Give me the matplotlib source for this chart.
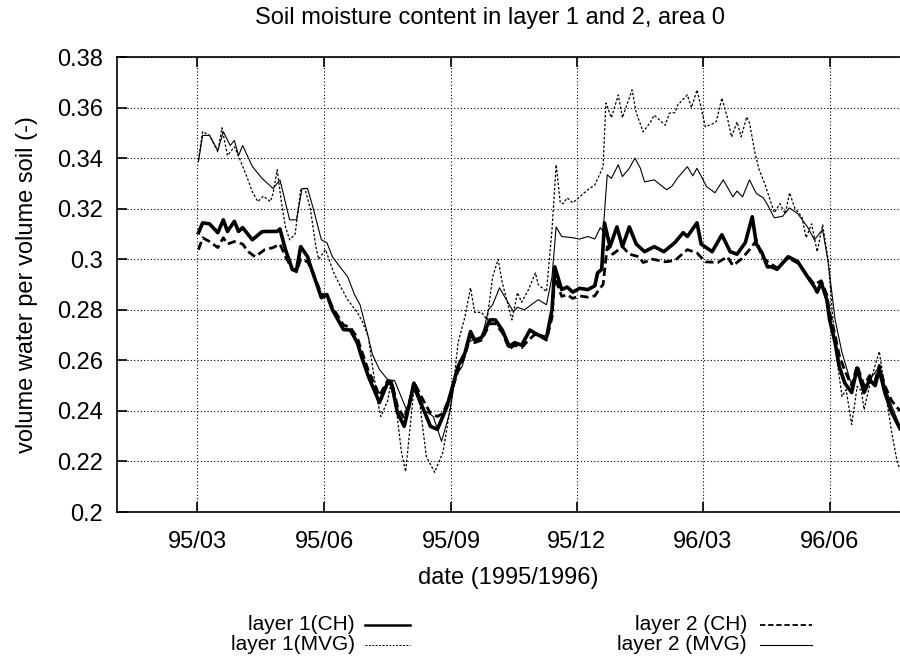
import numpy as np
import matplotlib
matplotlib.use('Agg')
import matplotlib.pyplot as plt
import matplotlib.dates as mdates
from matplotlib.lines import Line2D

plt.rcParams['font.family'] = ['Liberation Sans', 'DejaVu Sans']

# days since 1995-03-01 and soil moisture (volume water per volume soil)
l1_ch_days = [1, 4, 9, 15, 19, 22, 27, 30, 33, 40, 47, 51, 58, 60, 64, 69, 72, 75, 80,
              82, 88, 90, 94, 98, 106, 111, 116, 119, 124, 129, 132, 138, 141, 145, 150,
              154, 157, 163, 169, 174, 181, 185, 189, 194, 198, 201, 206, 212, 216, 221,
              226, 230, 235, 241, 247, 253, 257, 259, 264, 268, 272, 277, 283, 288, 290,
              293, 295, 299, 304, 308, 313, 318, 324, 331, 338, 346, 352, 355, 362, 365,
              373, 380, 386, 391, 397, 402, 405, 409, 413, 416, 420, 428, 435, 442, 447,
              449, 452, 456, 458, 462, 465, 469, 474, 478, 481, 483, 487, 491, 494, 498,
              503, 509]
l1_ch = [0.3105, 0.3144, 0.3140, 0.3105, 0.3156, 0.3110, 0.3150, 0.3110, 0.3125, 0.3077,
         0.3109, 0.3110, 0.3110, 0.3120, 0.3038, 0.2959, 0.2957, 0.3050, 0.3010,
         0.2975, 0.2880, 0.2848, 0.2860, 0.2800, 0.2722, 0.2720, 0.2670, 0.2616, 0.2537,
         0.2473, 0.2433, 0.2512, 0.2505, 0.2394, 0.2339,
         0.2433, 0.2510, 0.2418, 0.2339, 0.2327, 0.2418, 0.2497, 0.2576, 0.2630, 0.2714,
         0.2680, 0.2690, 0.2760, 0.2760, 0.2720,
         0.2655, 0.2670, 0.2660, 0.2720, 0.2700, 0.2690, 0.2800, 0.2970, 0.2880, 0.2890,
         0.2870, 0.2885, 0.2880, 0.2895, 0.2946,
         0.2960, 0.3144, 0.3050, 0.3128, 0.3050, 0.3128, 0.3060, 0.3030, 0.3050, 0.3030,
         0.3066, 0.3105, 0.3090, 0.3144, 0.3060,
         0.3030, 0.3097, 0.3030, 0.3020, 0.3066, 0.3168, 0.3060, 0.3026, 0.2970, 0.2970,
         0.2960, 0.3010, 0.2990, 0.2931, 0.2891,
         0.2870, 0.2907, 0.2840, 0.2761, 0.2670, 0.2576, 0.2510, 0.2473, 0.2570, 0.2510,
         0.2473, 0.2524, 0.2500, 0.2564, 0.2473,
         0.2394, 0.2330]

l2_ch_days = [1, 4, 9, 15, 19, 22, 27, 33, 37, 42, 49, 55, 60, 64, 69, 72, 75, 80,
              82, 88, 90, 94, 98, 106, 111, 116, 119, 124, 129, 132, 138, 141, 145, 150,
              154, 157, 163, 169, 174, 178, 181, 185, 189, 194, 198, 201, 206, 212, 216,
              221, 226, 230, 235, 240, 245, 253, 257, 259, 264, 268, 272, 277, 283, 288,
              291, 294, 297, 301, 308, 313, 320, 323, 330, 339, 346, 355, 362, 368, 377,
              384, 388, 394, 402, 405, 409, 413, 416, 420, 428, 435, 442, 447, 452, 456,
              458, 462, 465, 469, 474, 478, 481, 483, 487, 491, 494, 498, 503, 509]
l2_ch = [0.3038, 0.3085, 0.3070, 0.3046, 0.3085, 0.3060, 0.3070, 0.3060, 0.3030, 0.3010,
         0.3038, 0.3046, 0.3060, 0.3010, 0.2960, 0.2950, 0.3000, 0.2990,
         0.2970, 0.2890, 0.2860, 0.2860, 0.2810, 0.2740, 0.2730, 0.2690, 0.2640, 0.2560,
         0.2500, 0.2460, 0.2520, 0.2515, 0.2420, 0.2370,
         0.2440, 0.2515, 0.2450, 0.2390, 0.2378, 0.2390, 0.2430, 0.2490, 0.2560, 0.2620,
         0.2700, 0.2670, 0.2680, 0.2745, 0.2745,
         0.2710, 0.2645, 0.2660, 0.2650, 0.2680, 0.2705, 0.2680, 0.2770, 0.2930, 0.2853,
         0.2860, 0.2845, 0.2855, 0.2850, 0.2855,
         0.2880, 0.2900, 0.3050, 0.3020, 0.3050, 0.3020, 0.3010, 0.2987, 0.3000, 0.2990,
         0.2995, 0.3038, 0.3025, 0.2990, 0.2987,
         0.3010, 0.2975, 0.3000, 0.3050, 0.3077, 0.3010, 0.2990, 0.2980, 0.2965, 0.3005,
         0.2985, 0.2935, 0.2900, 0.2915, 0.2860,
         0.2790, 0.2700, 0.2620, 0.2560, 0.2500, 0.2580, 0.2530, 0.2500, 0.2540, 0.2520,
         0.2580, 0.2500, 0.2440, 0.2400]

l1_mvg_days = [1, 4, 9, 15, 18, 22, 27, 31, 36, 40, 44, 48, 53, 55, 58, 61, 64, 67, 71,
               75, 78, 82, 86, 88, 93, 99, 104, 109, 116, 120, 124, 127, 131, 133, 138,
               140, 144, 148, 151, 157, 161, 166, 172, 178, 180, 185, 189, 194, 198, 201,
               206, 210, 214, 218, 221, 228, 232, 235, 240, 245, 247, 253, 257, 260, 263,
               265, 268, 272, 277, 283, 288, 292, 294, 296, 300, 305, 308, 311, 315, 318,
               323, 328, 331, 339, 342, 346, 348, 355, 358, 362, 365, 368, 373, 376, 380,
               384, 387, 391, 394, 398, 400, 404, 407, 411, 418, 422, 426, 429, 433, 438,
               441, 445, 449, 453, 457, 460, 463, 467, 470, 474, 478, 481, 483, 488, 494,
               498, 503, 507, 509]
l1_mvg = [0.3393, 0.3505, 0.3490, 0.3425, 0.3520, 0.3410, 0.3445, 0.3395, 0.3327, 0.3267,
          0.3228, 0.3250, 0.3228, 0.3260, 0.3354, 0.3228, 0.3128, 0.3077, 0.3100,
          0.3275, 0.3280, 0.3200, 0.3050, 0.3000, 0.3038, 0.2946, 0.2891, 0.2840, 0.2790,
          0.2750, 0.2694, 0.2576, 0.2433, 0.2378, 0.2440,
          0.2500, 0.2420, 0.2236, 0.2160, 0.2485, 0.2440, 0.2220, 0.2157, 0.2236, 0.2300,
          0.2473, 0.2670, 0.2773, 0.2887, 0.2790,
          0.2790, 0.2760, 0.2930, 0.3000, 0.2907, 0.2760, 0.2868, 0.2830, 0.2880, 0.2946,
          0.2900, 0.2872, 0.3117, 0.3374, 0.3223,
          0.3220, 0.3243, 0.3223, 0.3247, 0.3275, 0.3294, 0.3342, 0.3366, 0.3618, 0.3560,
          0.3650, 0.3560, 0.3607, 0.3670, 0.3580,
          0.3504, 0.3540, 0.3570, 0.3530, 0.3578, 0.3580, 0.3610, 0.3650, 0.3600, 0.3670,
          0.3600, 0.3524, 0.3535, 0.3545, 0.3638,
          0.3560, 0.3484, 0.3543, 0.3484, 0.3563, 0.3540, 0.3420, 0.3354, 0.3300, 0.3184,
          0.3220, 0.3180, 0.3263, 0.3200, 0.3168,
          0.3085, 0.3140, 0.3030, 0.3136, 0.2998, 0.2789, 0.2616, 0.2457, 0.2484, 0.2346,
          0.2497, 0.2480, 0.2405, 0.2524, 0.2635,
          0.2490, 0.2315, 0.2197, 0.2170]

l2_mvg_days = [1, 4, 9, 15, 19, 24, 27, 30, 33, 40, 47, 55, 60, 67, 72, 76, 80, 84, 90,
               94, 98, 104, 109, 114, 118, 123, 127, 132, 138, 143, 152, 156, 161, 164,
               171, 177, 183, 187, 192, 196, 201, 206, 211, 214, 219, 224, 229, 232, 237,
               242, 247, 253, 257, 260, 264, 272, 277, 283, 288, 292, 294, 297, 300, 305,
               308, 313, 317, 321, 324, 331, 340, 344, 348, 355, 359, 362, 369, 375, 381,
               388, 391, 395, 400, 405, 410, 413, 418, 424, 429, 435, 442, 447, 453, 457,
               462, 467, 470, 474, 478, 483, 488, 494, 498, 503, 507, 509]
l2_mvg = [0.3387, 0.3490, 0.3490, 0.3430, 0.3505, 0.3450, 0.3470, 0.3410, 0.3450, 0.3367,
          0.3320, 0.3280, 0.3314, 0.3156, 0.3156, 0.3280, 0.3280, 0.3203, 0.3077,
          0.3065, 0.3010, 0.2966, 0.2931, 0.2860, 0.2820, 0.2714, 0.2623, 0.2564, 0.2524,
          0.2520, 0.2400, 0.2497, 0.2430, 0.2405,
          0.2378, 0.2280, 0.2394, 0.2537, 0.2576, 0.2670, 0.2685, 0.2685, 0.2800, 0.2820,
          0.2887, 0.2840, 0.2793, 0.2810, 0.2800,
          0.2820, 0.2840, 0.2820, 0.2930, 0.3128, 0.3090, 0.3085, 0.3080, 0.3090, 0.3080,
          0.3125, 0.3110, 0.3334, 0.3320, 0.3374,
          0.3327, 0.3360, 0.3400, 0.3360, 0.3306, 0.3314, 0.3275, 0.3290, 0.3322, 0.3366,
          0.3330, 0.3360, 0.3287, 0.3263, 0.3314,
          0.3247, 0.3270, 0.3247, 0.3314, 0.3260, 0.3243, 0.3216, 0.3164, 0.3170, 0.3203,
          0.3180, 0.3128, 0.3077, 0.3117, 0.2987,
          0.2761, 0.2631, 0.2576, 0.2500, 0.2560, 0.2480, 0.2530, 0.2576, 0.2500, 0.2420,
          0.2366, 0.2340]

y_ticks = [0.2, 0.22, 0.24, 0.26, 0.28, 0.3, 0.32, 0.34, 0.36, 0.38]

start = np.datetime64('1995-03-01')


def to_dates(days):
    return start + np.array(days, dtype='timedelta64[D]')


fig = plt.figure(figsize=(9, 6.6), dpi=100)
ax = fig.add_axes([0.13, 0.2242, 0.87, 0.6894])

ax.plot(to_dates(l1_ch_days), l1_ch, color='black', lw=2.6, solid_joinstyle='round')
ax.plot(to_dates(l2_ch_days), l2_ch, color='black', lw=2.0, dashes=(3, 1.5))
ax.plot(to_dates(l1_mvg_days), l1_mvg, color='black', lw=0.9, dashes=(2, 1.5))
ax.plot(to_dates(l2_mvg_days), l2_mvg, color='black', lw=0.8)

ax.set_xlim(start - np.timedelta64(58, 'D'), start + np.timedelta64(509, 'D'))
ax.set_ylim(0.2, 0.38)
ax.set_yticks(y_ticks)
ax.set_yticklabels(['%g' % v for v in y_ticks])
ax.xaxis.set_major_locator(mdates.MonthLocator(bymonth=[3, 6, 9, 12]))
ax.xaxis.set_major_formatter(mdates.DateFormatter('%y/%m'))

ax.tick_params(direction='in', length=7, width=1.2, labelsize=17, top=True, pad=10)
ax.tick_params(axis='x', pad=14)
ax.grid(True, color='black', linestyle=(0, (1, 2)), linewidth=0.8)
ax.spines['right'].set_visible(False)
for s in ['left', 'bottom', 'top']:
    ax.spines[s].set_linewidth(1.2)

ax.set_xlabel('date (1995/1996)', fontsize=17, labelpad=10)
ax.set_ylabel('volume water per volume soil (-)', fontsize=17, labelpad=14)
fig.text(490 / 900, 1 - 18 / 660, 'Soil moisture content in layer 1 and 2, area 0',
         ha='center', va='center', fontsize=17)

# key below the axes, text to the left of each line sample
key = [
    ('layer 1(CH)', 355, 365, 410, 625, dict(lw=1.8)),
    ('layer 1(MVG)', 355, 365, 410, 645, dict(lw=0.7, dashes=(2, 1.5))),
    ('layer 2 (CH)', 747, 760, 812, 625, dict(lw=1.3, dashes=(3, 1.5))),
    ('layer 2 (MVG)', 747, 760, 812, 645, dict(lw=0.8)),
]
for label, tx, x0, x1, y, style in key:
    fig.text(tx / 900, 1 - y / 660, label, ha='right', va='center', fontsize=15)
    fig.add_artist(Line2D([x0 / 900, x1 / 900], [1 - y / 660, 1 - y / 660],
                          color='black', transform=fig.transFigure, **style))

fig.savefig('out.png', dpi=100)
